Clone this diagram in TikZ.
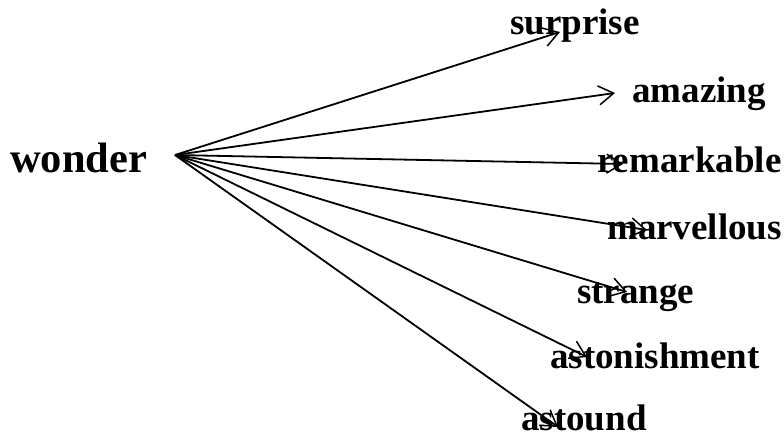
\documentclass[tikz,border=0pt]{standalone}
\usepackage{fontspec}
\setmainfont{Liberation Serif}
\usetikzlibrary{arrows.meta}
\begin{document}
\begin{tikzpicture}[x=1pt,y=1pt,
  word/.style={anchor=base west,inner sep=0pt,font=\bfseries\fontsize{37}{42}\selectfont},
  big/.style={anchor=base west,inner sep=0pt,font=\bfseries\fontsize{42.5}{48}\selectfont},
  link/.style={line width=1.8pt,-{Straight Barb[length=15pt,width=19pt,line width=1.5pt]}}]
\useasboundingbox (0,0) rectangle (784,437);
\node[big] (wonder) at (10,264) {wonder};
\node[word] (surprise) at (510,402) {surprise};
\node[word] (amazing) at (632,334) {amazing};
\node[word] (remarkable) at (597,264) {remarkable};
\node[word] (marvellous) at (607,197) {marvellous};
\node[word] (strange) at (577,134) {strange};
\node[word] (astonishment) at (550,69) {astonishment};
\node[word] (astound) at (521,7) {astound};
\coordinate (o) at (175,282);
\coordinate (t1) at (560,405);
\coordinate (t2) at (615,344);
\coordinate (t3) at (623,273);
\coordinate (t4) at (647,207);
\coordinate (t5) at (627,145);
\coordinate (t6) at (587,80);
\coordinate (t7) at (558,10);
\foreach \t in {t1,t2,t3,t4,t5,t6,t7} \draw[link] (o) -- (\t);
\end{tikzpicture}
\end{document}
